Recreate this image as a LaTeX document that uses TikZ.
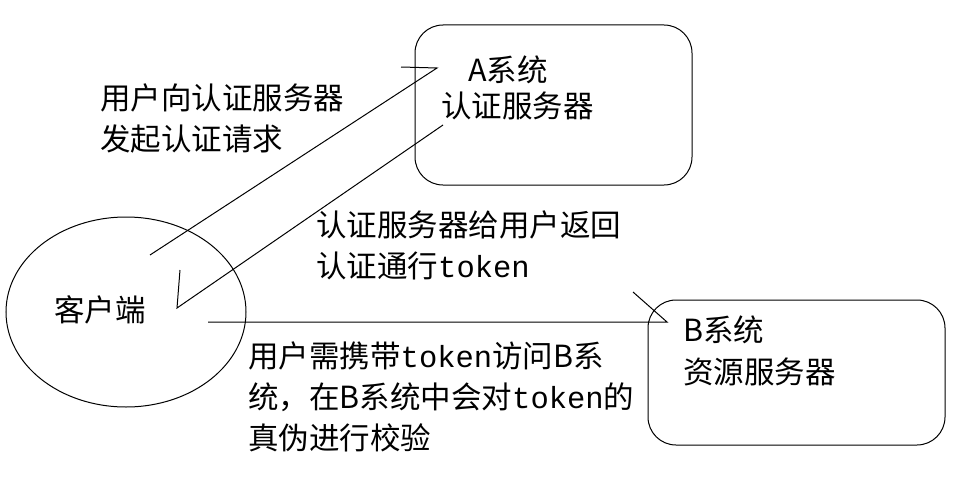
\documentclass[tikz,border=0pt]{standalone}
\usepackage{fontspec}
\usetikzlibrary{shapes.geometric}
\setmainfont{Noto Sans CJK SC}
\newfontfamily\latmono{Liberation Mono}
\begin{document}
\begin{tikzpicture}[x=1pt,y=-1pt,
  txt/.style={anchor=west,inner sep=0pt,font=\fontsize{30.5}{41}\selectfont,align=left},
  ln/.style={line width=1pt}]
\useasboundingbox (0,0) rectangle (974,487);
\node[draw,ln,rounded corners=28pt,minimum width=277pt,minimum height=160pt] (A) at (553.5,105) {};
\node[draw,ln,rounded corners=28pt,minimum width=297pt,minimum height=145pt] (B) at (796.5,372.5) {};
\node[draw,ln,ellipse,minimum width=240pt,minimum height=190pt,inner sep=0pt] (C) at (126,312) {};
\node[txt,anchor=center] (ct) at (100,310) {客户端};
\node[txt] (at) at (468,70) {A系统};
\node[txt] (as) at (441,106) {认证服务器};
\node[txt] (bt) at (683,330) {B系统};
\node[txt] (bs) at (683,372) {资源服务器};
\node[txt] (l1) at (100,118) {用户向认证服务器\\发起认证请求};
\node[txt] (l2) at (316,245) {认证服务器给用户返回\\认证通行{\latmono token}};
\node[txt] (l3) at (248,397) {用户需携带{\latmono token}访问B系\\统，在B系统中会对{\latmono token}的\\真伪进行校验};
\coordinate (p1s) at (150,255); \coordinate (p1e) at (437,68); \coordinate (p1t) at (401,67);
\coordinate (p2s) at (443,125); \coordinate (p2e) at (177,308); \coordinate (p2t) at (180,270);
\coordinate (p3s) at (208,322); \coordinate (p3e) at (667,322); \coordinate (p3t) at (633,292);
\draw[ln] (p1s) -- (p1e) -- (p1t);
\draw[ln] (p2s) -- (p2e) -- (p2t);
\draw[ln] (p3s) -- (p3e) -- (p3t);
\end{tikzpicture}
\end{document}
